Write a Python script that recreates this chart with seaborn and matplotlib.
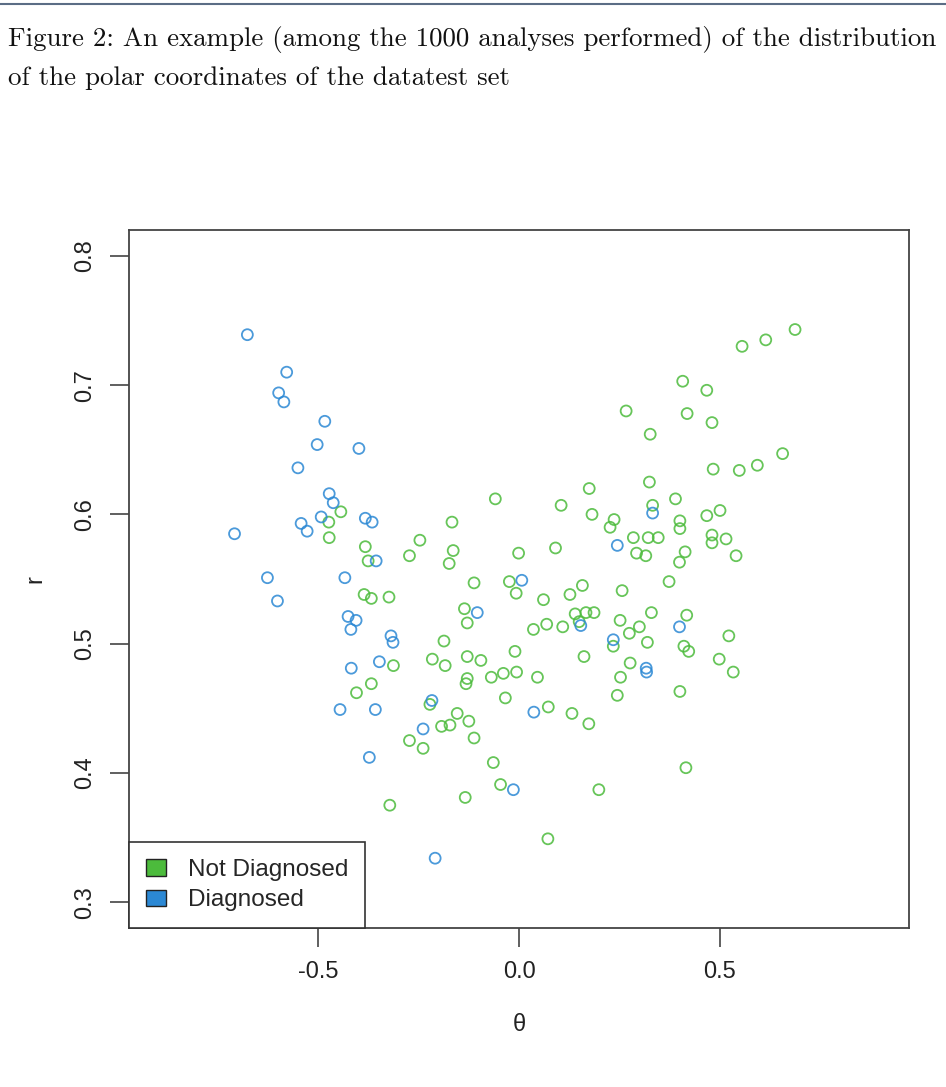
import pandas as pd
import matplotlib.pyplot as plt
import seaborn as sns
from matplotlib.patches import Patch
from matplotlib.lines import Line2D

# Diagnosed (blue)
theta_diag = [-0.677, -0.579, -0.599, -0.586, -0.484, -0.503, -0.399, -0.551, -0.473, -0.463,
              -0.493, -0.383, -0.366, -0.543, -0.528, -0.709, -0.356, -0.627, -0.434, -0.602,
              -0.426, -0.406, -0.419, -0.319, -0.314, -0.348, -0.418, -0.446, -0.358, -0.373,
              0.007, 0.245, -0.104, 0.154, 0.235, -0.217, 0.037, -0.239, -0.014, -0.209,
              0.333, 0.400, 0.317, 0.318]
r_diag = [0.739, 0.710, 0.694, 0.687, 0.672, 0.654, 0.651, 0.636, 0.616, 0.609,
          0.598, 0.597, 0.594, 0.593, 0.587, 0.585, 0.564, 0.551, 0.551, 0.533,
          0.521, 0.518, 0.511, 0.506, 0.501, 0.486, 0.481, 0.449, 0.449, 0.412,
          0.549, 0.576, 0.524, 0.514, 0.503, 0.456, 0.447, 0.434, 0.387, 0.334,
          0.601, 0.513, 0.481, 0.478]

# Not diagnosed (green)
theta_not = [-0.444, -0.474, -0.473, -0.383, -0.376, -0.386, -0.368, -0.324, -0.368, -0.405,
             -0.322, -0.059, 0.175, 0.105, 0.182, 0.237, 0.227, -0.167, -0.247, -0.164,
             -0.174, -0.273, -0.001, 0.091, -0.112, -0.024, -0.007, 0.061, 0.158, 0.127,
             0.257, -0.136, -0.129, 0.036, 0.069, 0.109, 0.140, 0.167, 0.187, 0.150,
             0.252, 0.275, -0.187, 0.235, -0.313, -0.216, -0.184, -0.129, -0.095, -0.010,
             0.162, -0.129, -0.132, -0.069, -0.039, -0.006, 0.046, 0.253, 0.277, -0.222,
             -0.034, 0.073, 0.132, 0.245, 0.174, -0.193, -0.172, -0.154, -0.125, -0.112,
             -0.273, -0.239, -0.064, -0.046, 0.199, -0.134, 0.072, 0.688, 0.615, 0.556,
             0.408, 0.468, 0.267, 0.419, 0.481, 0.327, 0.657, 0.484, 0.549, 0.594,
             0.325, 0.390, 0.333, 0.401, 0.401, 0.468, 0.501, 0.285, 0.322, 0.347,
             0.481, 0.481, 0.516, 0.293, 0.316, 0.414, 0.400, 0.541, 0.374, 0.330,
             0.418, 0.300, 0.320, 0.523, 0.411, 0.423, 0.499, 0.534, 0.401, 0.416]
r_not = [0.602, 0.594, 0.582, 0.575, 0.564, 0.538, 0.535, 0.536, 0.469, 0.462,
         0.375, 0.612, 0.620, 0.607, 0.600, 0.596, 0.590, 0.594, 0.580, 0.572,
         0.562, 0.568, 0.570, 0.574, 0.547, 0.548, 0.539, 0.534, 0.545, 0.538,
         0.541, 0.527, 0.516, 0.511, 0.515, 0.513, 0.523, 0.524, 0.524, 0.517,
         0.518, 0.508, 0.502, 0.498, 0.483, 0.488, 0.483, 0.490, 0.487, 0.494,
         0.490, 0.473, 0.469, 0.474, 0.477, 0.478, 0.474, 0.474, 0.485, 0.453,
         0.458, 0.451, 0.446, 0.460, 0.438, 0.436, 0.437, 0.446, 0.440, 0.427,
         0.425, 0.419, 0.408, 0.391, 0.387, 0.381, 0.349, 0.743, 0.735, 0.730,
         0.703, 0.696, 0.680, 0.678, 0.671, 0.662, 0.647, 0.635, 0.634, 0.638,
         0.625, 0.612, 0.607, 0.595, 0.589, 0.599, 0.603, 0.582, 0.582, 0.582,
         0.584, 0.578, 0.581, 0.570, 0.568, 0.571, 0.563, 0.568, 0.548, 0.524,
         0.522, 0.513, 0.501, 0.506, 0.498, 0.494, 0.488, 0.478, 0.463, 0.404]

groups = ["Not Diagnosed", "Diagnosed"]
colors = ["#4cbb3c", "#2b88d4"]
x_ticks = [-0.5, 0.0, 0.5]
x_ticklabels = ["-0.5", "0.0", "0.5"]
y_ticks = [0.3, 0.4, 0.5, 0.6, 0.7, 0.8]
y_ticklabels = ["0.3", "0.4", "0.5", "0.6", "0.7", "0.8"]
caption = ["Figure 2: An example (among the 1000 analyses performed) of the distribution",
           "of the polar coordinates of the datatest set"]

df = pd.DataFrame({
    "theta": theta_not + theta_diag,
    "r": r_not + r_diag,
    "group": [groups[0]] * len(theta_not) + [groups[1]] * len(theta_diag),
})

sns.set_style("ticks")
plt.rcParams["font.family"] = ["Liberation Sans", "DejaVu Sans"]

W, H = 946, 1087
fig = plt.figure(figsize=(W / 100, H / 100), dpi=100)
ax = fig.add_axes([129 / W, 1 - 928 / H, 780 / W, 698 / H])

sns.scatterplot(data=df, x="theta", y="r", hue="group",
                palette=dict(zip(groups, colors)), s=62, linewidth=1.0,
                ax=ax, legend=False)
pts = ax.collections[0]
ec = pts.get_facecolors().copy()
ec[:, 3] = 0.85
pts.set_edgecolors(ec)
pts.set_facecolors("none")
pts.set_linewidth(1.3)

ax.set_xlim(-0.972, 0.972)
ax.set_ylim(0.28, 0.82)
ax.set_xticks(x_ticks)
ax.set_xticklabels(x_ticklabels)
ax.set_yticks(y_ticks)
ax.set_yticklabels(y_ticklabels, rotation=90, va="center")
ax.tick_params(length=14, width=1.2, color="#444444", labelsize=17, pad=10,
               labelcolor="#222222")
for sp in ax.spines.values():
    sp.set_visible(True)
    sp.set_color("#444444")
    sp.set_linewidth(1.3)

ax.set_xlabel("θ", fontsize=17, labelpad=22, color="#222222")
ax.set_ylabel("r", fontsize=17, labelpad=20, color="#222222")

handles = [Patch(facecolor=c, edgecolor="#222222", linewidth=1.0) for c in colors]
leg = ax.legend(handles, groups, loc="lower left", bbox_to_anchor=(0, 0),
                borderaxespad=0, fontsize=17.5, fancybox=False, framealpha=1,
                edgecolor="#333333", handlelength=0.85, handleheight=0.65,
                handletextpad=0.9, labelspacing=0.35, borderpad=0.68)
leg.get_frame().set_linewidth(1.2)

# caption above the plot
fig.text(8 / W, 1 - 46 / H, caption[0], fontname="cmr10", fontsize=19.4,
         va="baseline", ha="left", color="#111111")
fig.text(8 / W, 1 - 85 / H, caption[1], fontname="cmr10", fontsize=19.4,
         va="baseline", ha="left", color="#111111")
fig.add_artist(Line2D([0, 1], [1 - 4 / H] * 2, transform=fig.transFigure,
                      color="#5b6d85", lw=1.5))

fig.savefig("out.png", dpi=100)
